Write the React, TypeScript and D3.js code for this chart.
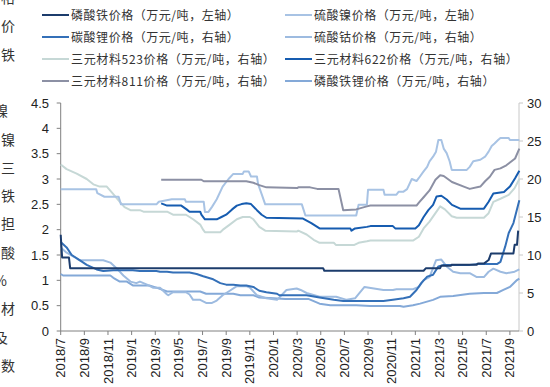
import React from "react";
import * as d3 from "d3";

// x values are month offsets from 2018/7 (0 = 2018/7, 12 = 2019/7, ...)
const xTickLabels = [
  "2018/7", "2018/9", "2018/11", "2019/1", "2019/3", "2019/5", "2019/7", "2019/9",
  "2019/11", "2020/1", "2020/3", "2020/5", "2020/7", "2020/9", "2020/11", "2021/1",
  "2021/3", "2021/5", "2021/7", "2021/9",
];
const leftTicks = [0, 0.5, 1, 1.5, 2, 2.5, 3, 3.5, 4, 4.5];
const rightTicks = [0, 5, 10, 15, 20, 25, 30];

// 磷酸铁 (left axis)
const fePO4Months = [0, 0.12, 0.7, 0.8, 22.2, 22.3, 30.7, 30.9, 32.1, 32.2, 33.0, 33.1, 35.2, 35.3, 35.8, 36.2, 36.4, 38.3, 38.4, 38.6, 38.7];
const fePO4Prices = [1.9, 1.45, 1.45, 1.24, 1.24, 1.19, 1.19, 1.24, 1.24, 1.29, 1.29, 1.31, 1.31, 1.33, 1.33, 1.40, 1.53, 1.53, 1.70, 1.70, 1.98];

// 硫酸镍 (left axis)
const niSO4Months = [0, 3, 3.1, 3.7, 4.9, 5.1, 8.1, 8.3, 9.4, 10.5, 10.6, 12.1, 12.2, 12.5, 12.8, 13.2, 13.7, 14.2, 14.6, 15.4, 15.5, 15.9, 16.1, 16.6, 16.7, 17.0, 17.3, 20.4, 20.7, 25.0, 25.2, 25.9, 26.0, 27.3, 27.4, 28.4, 28.6, 29.0, 29.3, 29.7, 30.1, 30.3, 30.7, 31.0, 31.2, 31.5, 31.75, 31.95, 32.2, 32.4, 32.65, 32.9, 33.08, 34.35, 34.6, 34.9, 35.5, 35.9, 36.2, 36.46, 36.7, 37.0, 37.2, 37.9, 38.0, 38.8];
const niSO4Prices = [2.8, 2.8, 2.72, 2.65, 2.65, 2.5, 2.5, 2.55, 2.6, 2.6, 2.55, 2.55, 2.35, 2.35, 2.45, 2.6, 2.85, 3.0, 3.1, 3.1, 3.15, 3.15, 3.05, 3.05, 2.9, 2.7, 2.5, 2.5, 2.28, 2.28, 2.49, 2.49, 2.79, 2.79, 2.69, 2.69, 2.75, 2.75, 2.8, 3.0, 2.96, 3.02, 3.15, 3.24, 3.35, 3.44, 3.54, 3.77, 3.77, 3.6, 3.51, 3.35, 3.18, 3.18, 3.24, 3.35, 3.38, 3.44, 3.54, 3.65, 3.7, 3.77, 3.81, 3.81, 3.77, 3.77];

// 碳酸锂 (right axis)
const li2CO3Months = [0, 0.5, 0.93, 1.63, 2.2, 3.04, 3.6, 4.45, 6.1, 6.7, 8.1, 8.4, 9.0, 9.5, 10.9, 11.5, 12.06, 12.9, 13.5, 14.0, 14.6, 15.2, 15.7, 16.3, 16.8, 17.4, 18.3, 18.5, 20.8, 21.9, 23.1, 23.9, 27.3, 28.1, 29.0, 29.55, 30.1, 30.5, 31.0, 31.5, 31.95, 32.4, 34.6, 35.2, 36.9, 37.2, 37.6, 37.9, 38.3, 38.7, 38.8];
const li2CO3Prices = [11.7, 11.0, 10.0, 9.3, 8.7, 8.1, 7.9, 8.0, 8.0, 7.9, 7.9, 7.8, 7.8, 7.7, 7.7, 7.5, 7.2, 6.8, 6.3, 6.1, 6.1, 6.0, 6.0, 5.8, 5.3, 5.1, 4.9, 4.7, 4.7, 4.4, 4.1, 3.95, 3.95, 4.1, 4.3, 4.5, 5.4, 6.3, 7.15, 7.4, 8.5, 8.7, 8.7, 8.8, 8.8, 9.1, 11.1, 12.9, 14.2, 16.6, 17.2];

// 硫酸钴 (right axis)
const coSO4Months = [0, 0.5, 1.2, 1.6, 3.6, 4.2, 4.7, 5.3, 5.9, 6.4, 6.7, 7.3, 7.8, 8.4, 9.0, 9.1, 9.5, 10.6, 10.9, 11.2, 11.8, 12.3, 12.8, 13.2, 13.7, 14.3, 14.9, 15.7, 16.0, 16.6, 17.4, 18.3, 19.1, 19.96, 20.3, 20.8, 21.9, 23.3, 24.2, 24.9, 25.7, 26.5, 27.3, 28.1, 28.4, 29.8, 30.3, 30.7, 31.2, 31.75, 32.2, 32.65, 33.2, 33.8, 34.6, 35.2, 35.8, 36.2, 36.6, 37.2, 37.7, 38.4, 38.8];
const coSO4Prices = [11.0, 10.3, 9.7, 9.3, 9.3, 9.0, 8.3, 7.3, 6.5, 6.3, 6.5, 6.1, 5.7, 5.7, 4.8, 4.7, 5.1, 5.1, 4.8, 4.1, 4.1, 3.7, 3.7, 4.0, 4.7, 5.3, 5.9, 5.9, 5.7, 4.7, 4.3, 4.1, 5.4, 5.6, 5.4, 5.0, 4.5, 4.5, 4.1, 4.3, 5.8, 5.6, 5.4, 5.4, 5.5, 5.5, 5.8, 6.7, 7.1, 9.3, 9.4, 8.5, 7.8, 7.6, 7.6, 7.1, 7.1, 7.8, 8.2, 7.8, 7.6, 7.8, 8.1];

// 三元材料523 (right axis)
const ncm523Months = [0, 0.5, 1.35, 2.2, 2.76, 3.3, 3.9, 4.45, 5.0, 5.4, 5.9, 6.7, 7.0, 9.0, 9.5, 10.6, 11.2, 11.8, 12.06, 12.2, 13.5, 13.7, 14.3, 14.9, 15.4, 16.0, 16.3, 16.8, 17.3, 20.0, 20.1, 20.8, 21.4, 21.9, 23.1, 23.3, 24.8, 25.2, 25.9, 26.2, 29.8, 30.3, 30.7, 31.2, 31.7, 32.1, 32.5, 33.08, 33.5, 35.8, 36.2, 36.6, 37.2, 37.9, 38.4, 38.8];
const ncm523Prices = [21.9, 21.3, 20.7, 20.0, 19.3, 19.0, 19.0, 18.0, 17.0, 16.3, 15.9, 15.9, 15.7, 15.7, 15.3, 15.3, 14.7, 14.0, 13.3, 13.0, 13.0, 13.3, 14.0, 14.7, 15.0, 15.0, 14.7, 13.7, 13.2, 13.1, 13.2, 12.7, 12.0, 11.6, 11.6, 11.3, 11.3, 11.6, 11.8, 11.9, 11.9, 12.4, 13.5, 14.4, 15.5, 16.4, 16.0, 15.1, 14.9, 14.9, 15.5, 17.0, 17.4, 17.9, 18.8, 20.0];

// 三元材料622 (right axis)
const ncm622Months = [8.5, 9.0, 10.2, 10.65, 10.9, 11.8, 11.9, 12.2, 13.2, 13.6, 14.0, 14.5, 14.9, 15.3, 15.7, 16.1, 16.6, 17.0, 17.4, 20.5, 21.2, 21.9, 24.5, 24.6, 24.9, 25.9, 26.2, 28.1, 28.3, 30.0, 30.3, 30.7, 31.1, 31.5, 31.8, 32.2, 32.65, 33.1, 33.8, 35.8, 36.2, 36.6, 37.5, 38.0, 38.44, 38.8];
const ncm622Prices = [16.8, 16.5, 16.5, 16.0, 15.7, 15.7, 15.3, 14.7, 14.7, 15.0, 15.3, 16.0, 16.5, 16.7, 16.8, 16.7, 15.9, 15.3, 14.9, 14.8, 14.2, 13.5, 13.5, 13.2, 13.5, 13.7, 13.8, 13.8, 13.5, 13.5, 13.9, 15.0, 15.9, 16.6, 17.7, 17.8, 17.3, 16.6, 16.1, 16.1, 17.0, 18.1, 18.3, 19.0, 20.1, 21.1];

// 三元材料811 (right axis)
const ncm811Months = [8.5, 11.9, 12.1, 15.7, 16.3, 16.8, 17.4, 20.0, 20.1, 21.1, 21.7, 23.5, 23.9, 25.0, 25.9, 26.2, 30.1, 30.3, 30.7, 31.2, 31.7, 32.1, 32.4, 33.1, 34.1, 34.6, 35.5, 35.9, 36.3, 36.7, 37.2, 37.7, 38.44, 38.8];
const ncm811Prices = [19.9, 19.9, 19.7, 19.7, 19.5, 19.2, 18.9, 18.8, 18.9, 18.9, 18.7, 18.7, 15.9, 16.0, 16.4, 16.5, 16.5, 16.9, 17.6, 18.5, 19.9, 20.5, 20.4, 19.6, 19.0, 18.7, 19.0, 19.7, 20.3, 21.2, 21.4, 21.8, 22.7, 24.0];

// 磷酸铁锂 (right axis)
const lfpMonths = [0, 0.2, 4.2, 4.45, 5.0, 5.6, 6.1, 7.5, 8.1, 9.0, 11.8, 12.3, 14.6, 15.2, 16.3, 16.8, 18.0, 19.0, 21.0, 21.9, 22.8, 25.0, 26.2, 28.7, 29.0, 29.8, 30.4, 31.5, 32.1, 33.2, 34.6, 35.8, 36.9, 37.45, 38.0, 38.6, 38.8];
const lfpPrices = [7.5, 7.3, 7.3, 7.0, 6.5, 6.5, 6.0, 6.0, 5.7, 5.2, 5.2, 4.9, 4.9, 4.7, 4.7, 4.4, 4.3, 4.2, 4.2, 3.6, 3.4, 3.4, 3.3, 3.3, 3.2, 3.4, 3.6, 4.1, 4.5, 4.6, 4.9, 5.0, 5.0, 5.4, 5.8, 6.7, 6.9];

const seriesNames = [
  "磷酸铁价格（万元/吨，左轴）",
  "硫酸镍价格（万元/吨，左轴）",
  "碳酸锂价格（万元/吨，右轴）",
  "硫酸钴价格（万元/吨，右轴）",
  "三元材料523价格（万元/吨，右轴）",
  "三元材料622价格（万元/吨，右轴）",
  "三元材料811价格（万元/吨，右轴）",
  "磷酸铁锂价格（万元/吨，右轴）",
];

const sideChars = ["格", "价", "铁", "", "镍", "镍", "三", "铁", "担", "酸", "%", "材", "及", "数"];

const W = 550, H = 387;
const plot = { left: 60.7, right: 519, top: 103, bottom: 331 };

function estWidth(s: string) {
  let w = 0;
  for (const ch of s) {
    if (/[0-9]/.test(ch)) w += 7.8;
    else if (ch === "/") w += 4;
    else w += 12.6;
  }
  return w;
}

export default function App() {
  const x = d3.scaleLinear().domain([0, 38.77]).range([plot.left, plot.right]);
  const yL = d3.scaleLinear().domain([0, 4.5]).range([plot.bottom, plot.top]);
  const yR = d3.scaleLinear().domain([0, 30]).range([plot.bottom, plot.top]);

  const series = [
    { m: fePO4Months, v: fePO4Prices, axis: "L", color: "#1C3C6C" },
    { m: niSO4Months, v: niSO4Prices, axis: "L", color: "#A8C3E4" },
    { m: li2CO3Months, v: li2CO3Prices, axis: "R", color: "#3470B8" },
    { m: coSO4Months, v: coSO4Prices, axis: "R", color: "#9DBBE0" },
    { m: ncm523Months, v: ncm523Prices, axis: "R", color: "#C6D8D6" },
    { m: ncm622Months, v: ncm622Prices, axis: "R", color: "#165CB0" },
    { m: ncm811Months, v: ncm811Prices, axis: "R", color: "#8C90A4" },
    { m: lfpMonths, v: lfpPrices, axis: "R", color: "#84A9D8" },
  ];
  const drawOrder = [4, 1, 7, 3, 6, 5, 2, 0];

  const font = "'Liberation Sans', Arial, sans-serif";
  const cjk = "'Noto Sans CJK SC', sans-serif";

  return (
    <svg width={W} height={H} style={{ position: "absolute", left: 0, top: 0, background: "#fff" }}>
      <rect x={0} y={0} width={W} height={H} fill="#fff" />
      {/* clipped side text */}
      {sideChars.map((c, i) =>
        c ? (
          <text key={"s" + i} x={i === 4 || i === 10 || i === 12 ? -6 : 1} y={-2 + i * 28.3 + 5}
            fontSize={14} fontFamily={cjk} fill="#333">{c}</text>
        ) : null
      )}
      {/* legend */}
      {seriesNames.map((name, i) => {
        const col = i % 2, row = Math.floor(i / 2);
        const lx = col === 0 ? 42 : 285;
        const ly = 15 + row * 22;
        return (
          <g key={"lg" + i}>
            <line x1={lx} x2={lx + 27} y1={ly} y2={ly} stroke={series[i].color} strokeWidth={2} />
            <text x={lx + 29} y={ly + 4.5} fontSize={12} textLength={estWidth(name)} lengthAdjust="spacing"
              fontFamily={cjk} fill="#333">{name}</text>
          </g>
        );
      })}
      {/* axes */}
      <line x1={plot.left} x2={plot.left} y1={plot.top} y2={plot.bottom} stroke="#808080" />
      <line x1={plot.right} x2={plot.right} y1={plot.top} y2={plot.bottom} stroke="#c8c8c8" />
      {leftTicks.map((t) => (
        <g key={"lt" + t}>
          <line x1={plot.left - 4} x2={plot.left} y1={yL(t)} y2={yL(t)} stroke="#808080" />
          <text x={49} y={yL(t)} dy="0.35em" textAnchor="end" fontSize={13} fontFamily={font} fill="#222">{t}</text>
        </g>
      ))}
      {rightTicks.map((t) => (
        <g key={"rt" + t}>
          <line x1={plot.right} x2={plot.right + 4} y1={yR(t)} y2={yR(t)} stroke="#c8c8c8" />
          <text x={527} y={yR(t)} dy="0.35em" textAnchor="start" fontSize={13} fontFamily={font} fill="#222">{t}</text>
        </g>
      ))}
      {/* lines */}
      {drawOrder.map((si) => {
        const s = series[si];
        const yS = s.axis === "L" ? yL : yR;
        const pts: [number, number][] = s.m.map((mm, k) => [mm, s.v[k]]);
        const gen = d3.line<[number, number]>().x((d) => x(d[0])).y((d) => yS(d[1]));
        return <path key={"p" + si} d={gen(pts) || ""} fill="none" stroke={s.color} strokeWidth={2} strokeLinejoin="round" />;
      })}
      <line x1={plot.left} x2={plot.right} y1={plot.bottom} y2={plot.bottom} stroke="#808080" />
      {xTickLabels.map((lab, i) => (
        <g key={"xt" + i}>
          <line x1={x(i * 2)} x2={x(i * 2)} y1={plot.bottom} y2={plot.bottom + 4} stroke="#808080" />
          <text transform={`translate(${x(i * 2)},${plot.bottom + 7}) rotate(-90)`} dy="0.35em" textAnchor="end"
            fontSize={13} fontFamily={font} fill="#222">{lab}</text>
        </g>
      ))}
    </svg>
  );
}
